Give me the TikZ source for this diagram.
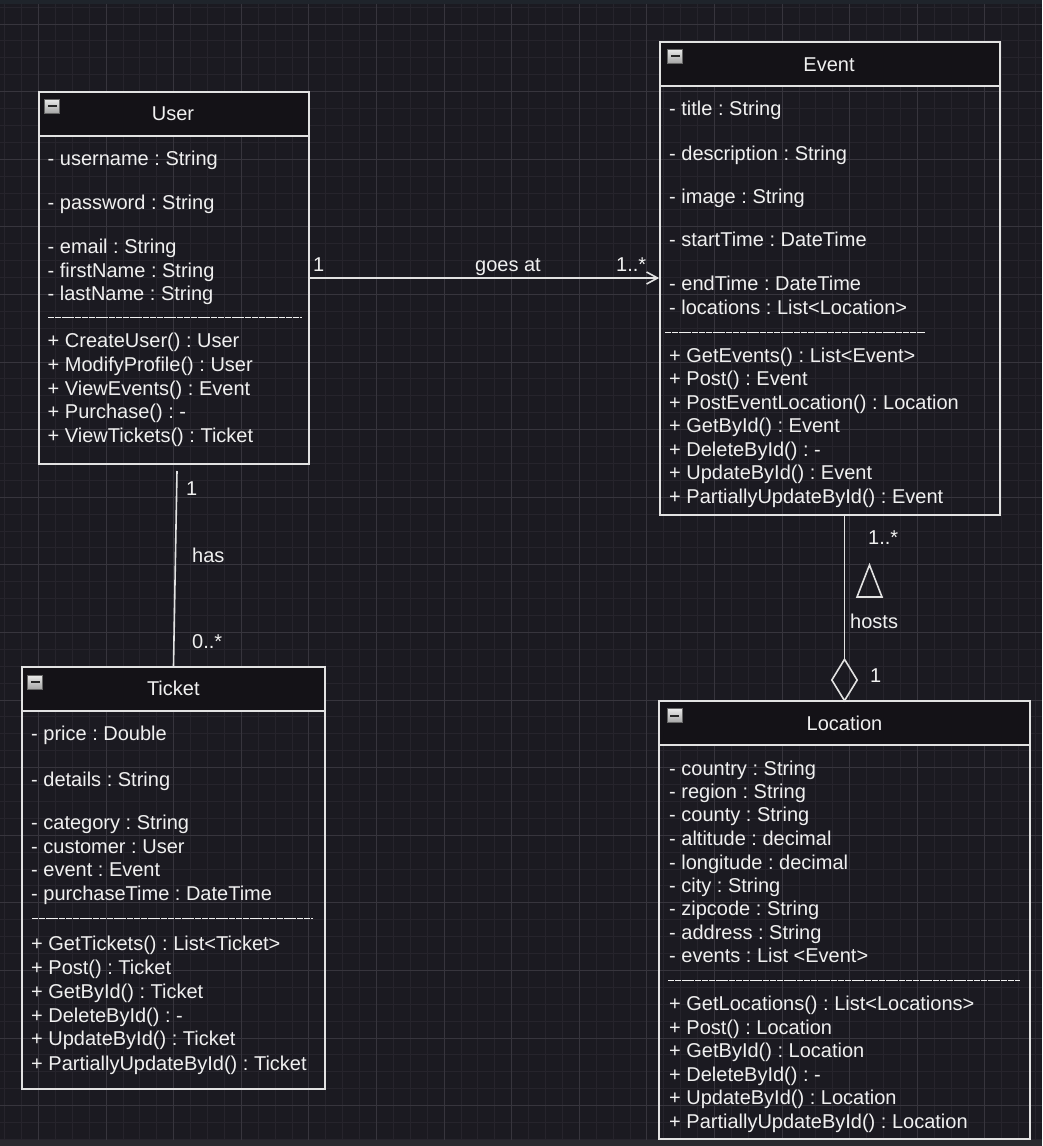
\documentclass[tikz,border=0pt]{standalone}
\usepackage{fontspec}
\setmainfont{Liberation Sans}
\usetikzlibrary{arrows.meta,shapes.geometric}
\definecolor{bg}{HTML}{1B1A21}
\definecolor{gridminor}{HTML}{26242C}
\definecolor{gridmajor}{HTML}{37353D}
\definecolor{hdr}{HTML}{141217}
\definecolor{ink}{HTML}{F0F0F0}
\definecolor{edge}{HTML}{E2E2E2}
\definecolor{topband}{HTML}{1F242B}
\definecolor{botband}{HTML}{2A2A2F}
\begin{document}
\frenchspacing
\begin{tikzpicture}[x=1pt,y=-1pt,
  every node/.style={text=ink, font=\fontsize{20}{24}\selectfont\frenchspacing},
  txt/.style={anchor=base west, inner sep=0pt},
  ttl/.style={anchor=base, inner sep=0pt},
  lbl/.style={anchor=base west, inner sep=0pt},
  umlbox/.style={draw=edge, line width=1.6pt, rectangle, inner sep=0pt},
  hdrline/.style={draw=edge, line width=1.6pt},
  sepline/.style={draw=ink, line width=1pt, dash pattern=on 6pt off 0.8pt},
  conn/.style={draw=edge, line width=1.6pt},
  minorg/.style={draw=gridminor, line width=1pt},
  majorg/.style={draw=gridmajor, line width=1pt},
  icon/.style={rectangle, inner sep=0pt, minimum width=15pt, minimum height=14pt,
    draw=black!60, line width=0.8pt, top color=white!92!black, bottom color=black!35,
    path picture={\fill[black!85] ([xshift=3pt,yshift=-1pt]path picture bounding box.west) rectangle ([xshift=-3pt,yshift=1pt]path picture bounding box.east);}}
]
\useasboundingbox (0,0) rectangle (1042,1146);
\fill[bg] (0,0) rectangle (1042,1146);
% grid
\foreach \i in {-2,...,60} {\draw[minorg] ({38.5+16.9*\i},0) -- ({38.5+16.9*\i},1146);}
\foreach \j in {-1,...,66} {\draw[minorg] (0,{24+16.9*\j}) -- (1042,{24+16.9*\j});}
\foreach \i in {0,...,15} {\draw[majorg] ({38.5+67.6*\i},0) -- ({38.5+67.6*\i},1146);}
\foreach \j in {0,...,16} {\draw[majorg] (0,{24+67.6*\j}) -- (1042,{24+67.6*\j});}
\fill[topband] (0,0) rectangle (1042,4);
\fill[botband] (0,1140) rectangle (1042,1146);

% ===== User =====
\fill[hdr] (39,92) rectangle (309,136);
\node[umlbox, minimum width=270pt, minimum height=372pt] (user) at (174,278) {};
\draw[hdrline] (39,136) -- (309,136);
\node[icon] (usericon) at (52,106) {};
\node[ttl] (usertitle) at (173,120) {User};
\node[txt] (u1) at (47.5,165) {- username : String};
\node[txt] (u2) at (47.5,209) {- password : String};
\node[txt] (u3) at (47.5,253) {- email : String};
\node[txt] (u4) at (47.5,277) {- firstName : String};
\node[txt] (u5) at (47.5,300) {- lastName : String};
\draw[sepline] (48,317) -- (302,317);
\node[txt] (u6) at (47.5,347) {+ CreateUser() : User};
\node[txt] (u7) at (47.5,371) {+ ModifyProfile() : User};
\node[txt] (u8) at (47.5,395) {+ ViewEvents() : Event};
\node[txt] (u9) at (47.5,418) {+ Purchase() : -};
\node[txt] (u10) at (47.5,442) {+ ViewTickets() : Ticket};

% ===== Event =====
\fill[hdr] (660,42) rectangle (1000,86);
\node[umlbox, minimum width=340pt, minimum height=473pt] (event) at (830,278.5) {};
\draw[hdrline] (660,86) -- (1000,86);
\node[icon] (eventicon) at (675,56) {};
\node[ttl] (eventtitle) at (829,71) {Event};
\node[txt] (e1) at (669,115) {- title : String};
\node[txt] (e2) at (669,160) {- description : String};
\node[txt] (e3) at (669,203) {- image : String};
\node[txt] (e4) at (669,246) {- startTime : DateTime};
\node[txt] (e5) at (669,290) {- endTime : DateTime};
\node[txt] (e6) at (669,314) {- locations : List<Location>};
\draw[sepline] (665,332) -- (925,332);
\node[txt] (e7) at (669,362) {+ GetEvents() : List<Event>};
\node[txt] (e8) at (669,385) {+ Post() : Event};
\node[txt] (e9) at (669,409) {+ PostEventLocation() : Location};
\node[txt] (e10) at (669,432) {+ GetById() : Event};
\node[txt] (e11) at (669,456) {+ DeleteById() : -};
\node[txt] (e12) at (669,479) {+ UpdateById() : Event};
\node[txt] (e13) at (669,503) {+ PartiallyUpdateById() : Event};

% ===== Location =====
\fill[hdr] (659,701) rectangle (1030,745);
\node[umlbox, minimum width=371pt, minimum height=438pt] (location) at (844.5,920) {};
\draw[hdrline] (659,745) -- (1030,745);
\node[icon] (locicon) at (674.5,715.5) {};
\node[ttl] (loctitle) at (844.5,730) {Location};
\node[txt] (l1) at (669,775) {- country : String};
\node[txt] (l2) at (669,798) {- region : String};
\node[txt] (l3) at (669,821) {- county : String};
\node[txt] (l4) at (669,845) {- altitude : decimal};
\node[txt] (l5) at (669,869) {- longitude : decimal};
\node[txt] (l6) at (669,892) {- city : String};
\node[txt] (l7) at (669,915) {- zipcode : String};
\node[txt] (l8) at (669,939) {- address : String};
\node[txt] (l9) at (669,962) {- events : List <Event>};
\draw[sepline] (668,980) -- (1020,980);
\node[txt] (l10) at (669,1010) {+ GetLocations() : List<Locations>};
\node[txt] (l11) at (669,1034) {+ Post() : Location};
\node[txt] (l12) at (669,1057) {+ GetById() : Location};
\node[txt] (l13) at (669,1081) {+ DeleteById() : -};
\node[txt] (l14) at (669,1104) {+ UpdateById() : Location};
\node[txt] (l15) at (669,1128) {+ PartiallyUpdateById() : Location};

% ===== Ticket =====
\fill[hdr] (22,667) rectangle (325,711);
\node[umlbox, minimum width=303pt, minimum height=422pt] (ticket) at (173.5,878) {};
\draw[hdrline] (22,711) -- (325,711);
\node[icon] (ticketicon) at (35,682) {};
\node[ttl] (tickettitle) at (173.3,695) {Ticket};
\node[txt] (t1) at (31,740) {- price : Double};
\node[txt] (t2) at (31,786) {- details : String};
\node[txt] (t3) at (31,829) {- category : String};
\node[txt] (t4) at (31,853) {- customer : User};
\node[txt] (t5) at (31,876) {- event : Event};
\node[txt] (t6) at (31,900) {- purchaseTime : DateTime};
\draw[sepline] (32,918) -- (313,918);
\node[txt] (t7) at (31,950) {+ GetTickets() : List<Ticket>};
\node[txt] (t8) at (31,974) {+ Post() : Ticket};
\node[txt] (t9) at (31,998) {+ GetById() : Ticket};
\node[txt] (t10) at (31,1022) {+ DeleteById() : -};
\node[txt] (t11) at (31,1045) {+ UpdateById() : Ticket};
\node[txt] (t12) at (31,1070) {+ PartiallyUpdateById() : Ticket};

% ===== connectors =====
% User -> Event
\draw[conn, -{Straight Barb[length=11pt,width=12pt,line width=1.6pt]}] (user.east) -- (user.east -| event.west);
\node[lbl] (ge1) at (313,271) {1};
\node[ttl] (gelabel) at (508,271) {goes at};
\node[lbl] (ge2) at (616,271) {1..*};

% User - Ticket
\coordinate (hastop) at (177,471);
\draw[conn] (hastop) -- (ticket.north);
\node[lbl] (has1) at (186,495) {1};
\node[lbl] (haslabel) at (192,562) {has};
\node[lbl] (has2) at (192,648) {0..*};

% Event - Location (aggregation)
\node[draw=edge, line width=1.6pt, diamond, minimum width=26pt, minimum height=42pt, inner sep=0pt] (agg) at (844.5,680) {};
\draw[conn] (agg.north) -- (agg.north |- event.south);
\draw[draw=edge, line width=1.6pt, line join=miter] (869.5,565) -- (857,597) -- (882,597) -- cycle;
\node[lbl] (ho1) at (868,544) {1..*};
\node[lbl] (hoslabel) at (850,628) {hosts};
\node[lbl] (ho2) at (870,682) {1};
\end{tikzpicture}
\end{document}
